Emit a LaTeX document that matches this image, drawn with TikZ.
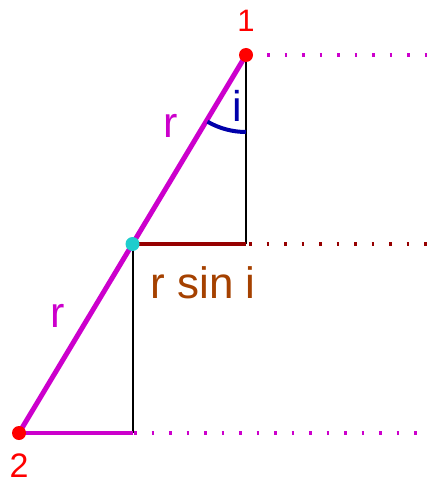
\documentclass[tikz,border=0pt]{standalone}
\usepackage{fontspec}
\setmainfont{Liberation Sans}
\usetikzlibrary{positioning}
\definecolor{magline}{RGB}{204,0,204}
\definecolor{darkline}{RGB}{150,0,0}
\definecolor{arcblue}{RGB}{0,0,170}
\definecolor{sinbrown}{RGB}{165,65,0}
\definecolor{midcyan}{RGB}{30,205,205}
\tikzset{
  dot/.style={circle,fill=#1,inner sep=0pt,minimum size=14pt},
  lbl/.style={inner sep=0pt,anchor=base,text=#1},
  dotline/.style={draw=#1,line width=4.5pt,dash pattern=on 2.5pt off 15pt}
}

\begin{document}
\begin{tikzpicture}[x=1pt,y=-1pt]
      \useasboundingbox (0,0) rectangle (430,481);
      \coordinate (p1) at (246,55);
      \coordinate (pm) at (132.5,244);
      \coordinate (p2) at (19,433);
      \coordinate (c1) at (246,244);
      \coordinate (c2) at (132.5,433);
      \coordinate (t1) at (267,55);
      \coordinate (t1e) at (431,55);
      \coordinate (t2) at (249,244);
      \coordinate (t2e) at (431,244);
      \coordinate (t3) at (134,433);
      \coordinate (t3e) at (431,433);
      % dotted guides
      \draw[dotline=magline] (t1) -- (t1e);
      \draw[dotline=darkline] (t2) -- (t2e);
      \draw[dotline=magline] (t3) -- (t3e);
      % triangles
      \draw[line width=2pt] (p1) -- (c1);
      \draw[line width=2pt] (pm) -- (c2);
      \draw[darkline,line width=4.5pt] (pm) -- (c1);
      \draw[magline,line width=4.5pt] (p2) -- (c2);
      \draw[magline,line width=5pt] (p1) -- (p2);
      \draw[arcblue,line width=4pt] (p1) ++(90:77) arc[start angle=90,end angle=120,radius=77];
      % points
      \node[dot=red] (d1) at (p1) {};
      \node[dot=midcyan] (dm) at (pm) {};
      \node[dot=red] (d2) at (p2) {};
      % labels
      \node[lbl=red,font=\fontsize{31}{31}\selectfont] (n1) at (246,32) {1};
      \node[lbl=red,font=\fontsize{34}{34}\selectfont] (n2) at (19,477) {2};
      \node[lbl=magline,font=\fontsize{43}{43}\selectfont] (r1) at (171,138) {r};
      \node[lbl=magline,font=\fontsize{43}{43}\selectfont] (r2) at (58,327) {r};
      \node[lbl=arcblue,font=\fontsize{43}{43}\selectfont] (ang) at (237,122) {i};
      \node[lbl=sinbrown,font=\fontsize{44}{44}\selectfont] (rsin) at (203,298) {r sin i};
\end{tikzpicture}
\end{document}
